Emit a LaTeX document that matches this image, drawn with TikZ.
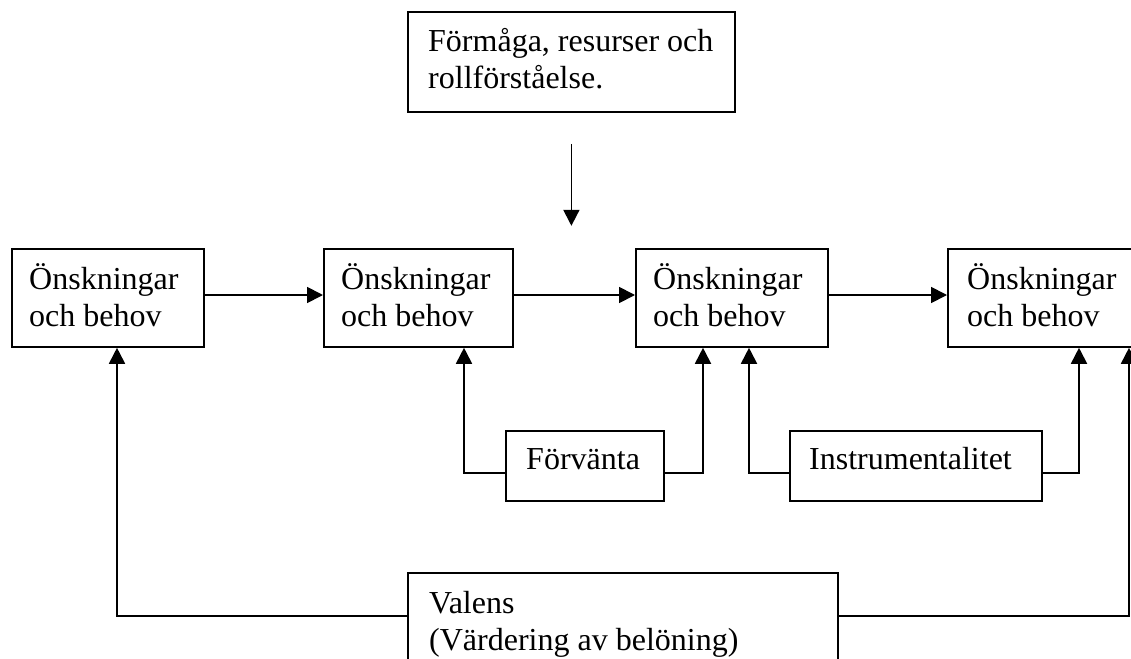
\documentclass[tikz,border=0pt]{standalone}
\usepackage{fontspec}
\setmainfont{Liberation Serif}
\usetikzlibrary{arrows.meta,calc}
\begin{document}
\begin{tikzpicture}[x=1pt,y=-1pt,
  box/.style={draw,line width=1.8pt,rectangle,inner sep=0pt,anchor=north west},
  txt/.style={anchor=base west,inner sep=0pt,align=left,font=\fontsize{32}{37}\selectfont},
  conn/.style={line width=1.8pt,-{Triangle[length=16pt,width=16pt]}}]
\useasboundingbox (0,0) rectangle (1131,658);
\clip (0,0) rectangle (1131,658);
\fill[white] (0,0) rectangle (1131,658);
% boxes
\node[box,minimum width=327pt,minimum height=100pt] (top) at (407,11) {};
\node[box,minimum width=192pt,minimum height=98pt] (b1) at (11,248) {};
\node[box,minimum width=189pt,minimum height=98pt] (b2) at (323,248) {};
\node[box,minimum width=192pt,minimum height=98pt] (b3) at (635,248) {};
\node[box,minimum width=192pt,minimum height=98pt] (b4) at (947,248) {};
\node[box,minimum width=158pt,minimum height=70pt] (f) at (505,430) {};
\node[box,minimum width=252pt,minimum height=70pt] (ins) at (789,430) {};
\node[box,minimum width=430pt,minimum height=110pt] (v) at (407,572) {};
% texts
\node[txt] (ttop) at (428,89) {Förmåga, resurser och\\rollförståelse.};
\node[txt] (t1) at (29,326) {Önskningar\\och behov};
\node[txt] (t2) at (341,326) {Önskningar\\och behov};
\node[txt] (t3) at (653,326) {Önskningar\\och behov};
\node[txt] (t4) at (967,326) {Önskningar\\och behov};
\node[txt] (tf) at (526,469) {Förvänta};
\node[txt] (tins) at (809,469) {Instrumentalitet};
\node[txt] (tv) at (429,650) {Valens\\(Värdering av belöning)};
% connectors
\coordinate (ds) at ($(top.south)+(0,31)$);
\coordinate (de) at ($(top.south)+(0,113)$);
\draw[conn] (ds) -- (de);
\draw[conn] (b1.east |- 0,295) -- (b2.west |- 0,295);
\draw[conn] (b2.east |- 0,295) -- (b3.west |- 0,295);
\draw[conn] (b3.east |- 0,295) -- (b4.west |- 0,295);
\draw[conn] (f.west |- 0,473) -| (b2.south -| 464,0);
\draw[conn] (f.east |- 0,473) -| (b3.south -| 703,0);
\draw[conn] (ins.west |- 0,473) -| (b3.south -| 749,0);
\draw[conn] (ins.east |- 0,473) -| (b4.south -| 1079,0);
\draw[conn] (v.west |- 0,616) -| (b1.south -| 117,0);
\draw[conn] (v.east |- 0,616) -| (b4.south -| 1129,0);
\end{tikzpicture}
\end{document}
